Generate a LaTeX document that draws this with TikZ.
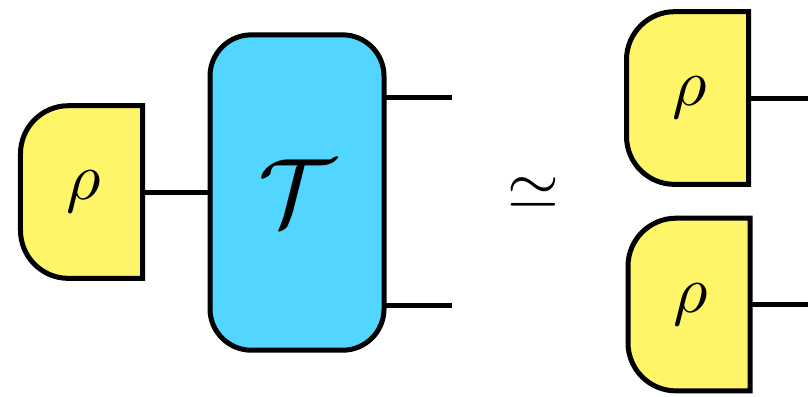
\documentclass[tikz,border=0pt]{standalone}
\usepackage{amsmath}
\definecolor{stateyellow}{RGB}{255,245,105}
\definecolor{chanblue}{RGB}{82,214,255}
\begin{document}
\begin{tikzpicture}[x=0.15pt,y=0.15pt,line width=0.75pt,
  statebox/.style={inner sep=0pt,outer sep=0pt,minimum width=18.3pt,minimum height=25.9pt},
  chanbox/.style={draw=black,fill=chanblue,rounded corners=6.2pt,inner sep=0pt,outer sep=0pt,minimum width=26.1pt,minimum height=47.3pt},
  statefill/.style={draw=black,fill=stateyellow,line join=miter}]
\useasboundingbox (0,0) rectangle (808,396);
% nodes
\node[statebox] (r1) at (81.5,204) {};
\node[statebox] (r2) at (687.5,298) {};
\node[statebox] (r3) at (689,91.5) {};
\coordinate (o1) at (452,299);
\coordinate (o2) at (452,91);
\coordinate (e2) at (808,298);
\coordinate (e3) at (808,91.5);
% wires
\draw (r1.east) -- (210,204);
\draw (r2.east) -- (e2);
\draw (r3.east) -- (e3);
% channel
\node[chanbox] (T) at (297,203.5) {\Large$\mathcal{T}$};
\draw (T.east |- o1) -- (o1);
\draw (T.east |- o2) -- (o2);
% states
\foreach \r in {r1,r2,r3}{
  \draw[statefill] (\r.north east) -- ([xshift=7.2pt]\r.north west)
    arc[start angle=90,end angle=180,radius=7.2pt]
    -- ([yshift=7.2pt]\r.south west)
    arc[start angle=180,end angle=270,radius=7.2pt]
    -- (\r.south east) -- cycle;
  \node at ([xshift=0.3pt]\r) {$\rho$};
}
\node (eq) at (533,203) {$\simeq$};
\end{tikzpicture}
\end{document}
